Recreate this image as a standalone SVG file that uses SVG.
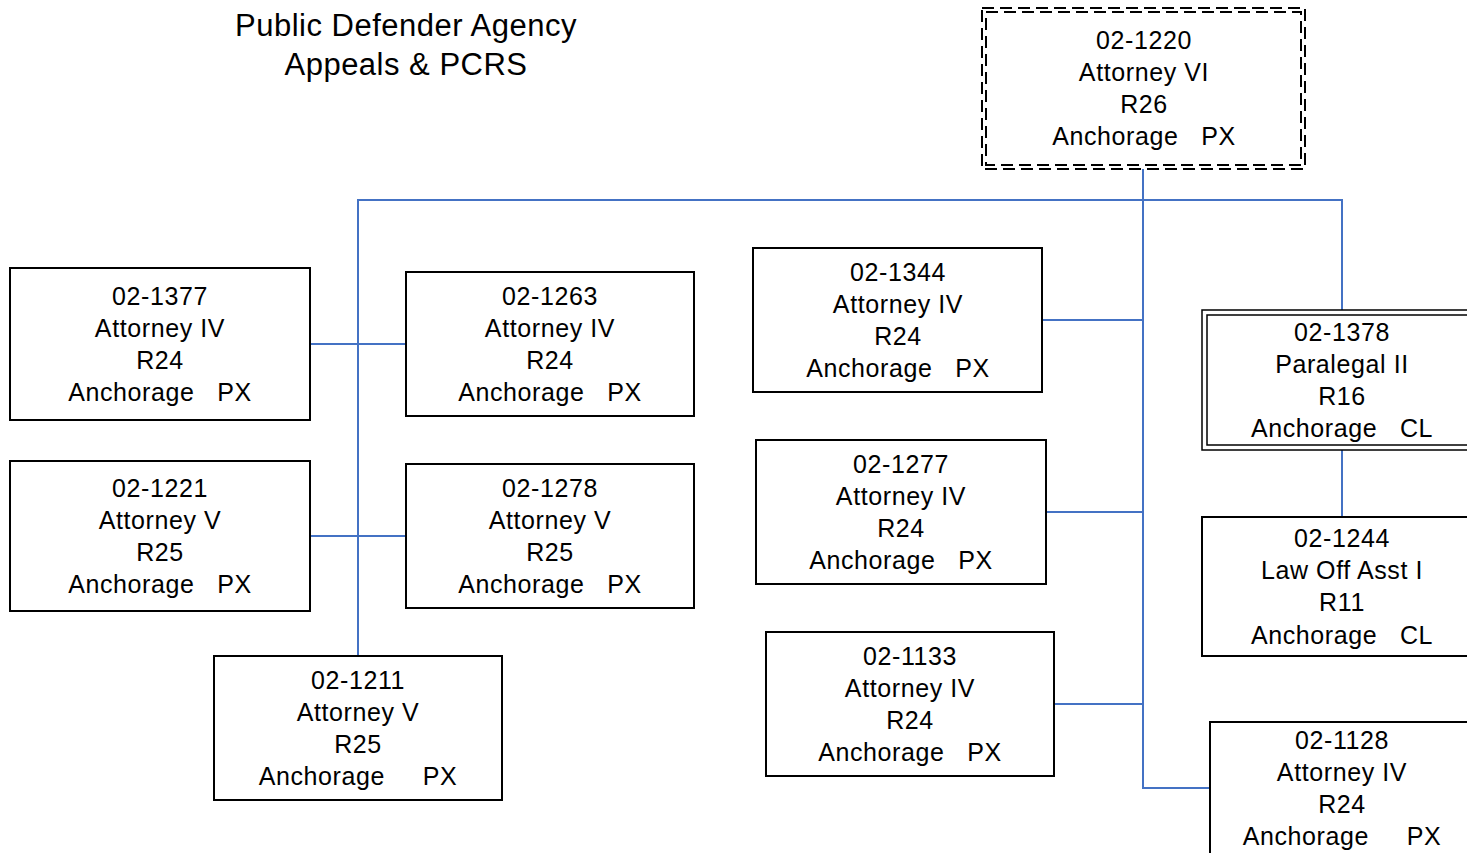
<svg xmlns="http://www.w3.org/2000/svg" width="1467" height="853" viewBox="0 0 1467 853">
<style>
.box{fill:#fff;stroke:#000;stroke-width:2}
.dbl{fill:none;stroke:#000;stroke-width:1.5}
.dash{fill:none;stroke:#000;stroke-width:2;stroke-dasharray:12 6}
.t{font-family:"Liberation Sans",Arial,sans-serif;font-size:25px;letter-spacing:0.6px;fill:#000;text-anchor:middle;white-space:pre}
.title{font-family:"Liberation Sans",Arial,sans-serif;font-size:31px;letter-spacing:0.5px;fill:#000;text-anchor:middle}
.c{fill:none;stroke:#4472C4;stroke-width:2}
</style>
<rect width="1467" height="853" fill="#fff"/>
<g id="title">
<text class="title" x="406" y="36">Public Defender Agency</text>
<text class="title" x="406" y="75">Appeals &amp; PCRS</text>
</g>
<g id="connectors">
<path class="c" d="M1143 169V788H1210"/>
<path class="c" d="M358 656V200H1342V310"/>
<path class="c" d="M1342 450V517"/>
<path class="c" d="M310 344H406"/>
<path class="c" d="M310 536H406"/>
<path class="c" d="M1042 320H1143"/>
<path class="c" d="M1046 512H1143"/>
<path class="c" d="M1054 704H1143"/>
</g>
<g id="n1220">
<rect class="dash" x="982" y="8" width="323" height="161"/>
<rect class="dash" x="986" y="12" width="315" height="153"/>
<text class="t" x="1144" y="49">02-1220</text>
<text class="t" x="1144" y="81">Attorney VI</text>
<text class="t" x="1144" y="113">R26</text>
<text class="t" x="1144" y="145" xml:space="preserve">Anchorage   PX</text>
</g>
<g id="n1377">
<rect class="box" x="10" y="268" width="300" height="152"/>
<text class="t" x="160" y="305">02-1377</text>
<text class="t" x="160" y="337">Attorney IV</text>
<text class="t" x="160" y="369">R24</text>
<text class="t" x="160" y="401" xml:space="preserve">Anchorage   PX</text>
</g>
<g id="n1263">
<rect class="box" x="406" y="272" width="288" height="144"/>
<text class="t" x="550" y="305">02-1263</text>
<text class="t" x="550" y="337">Attorney IV</text>
<text class="t" x="550" y="369">R24</text>
<text class="t" x="550" y="401" xml:space="preserve">Anchorage   PX</text>
</g>
<g id="n1221">
<rect class="box" x="10" y="461" width="300" height="150"/>
<text class="t" x="160" y="497">02-1221</text>
<text class="t" x="160" y="529">Attorney V</text>
<text class="t" x="160" y="561">R25</text>
<text class="t" x="160" y="593" xml:space="preserve">Anchorage   PX</text>
</g>
<g id="n1278">
<rect class="box" x="406" y="464" width="288" height="144"/>
<text class="t" x="550" y="497">02-1278</text>
<text class="t" x="550" y="529">Attorney V</text>
<text class="t" x="550" y="561">R25</text>
<text class="t" x="550" y="593" xml:space="preserve">Anchorage   PX</text>
</g>
<g id="n1211">
<rect class="box" x="214" y="656" width="288" height="144"/>
<text class="t" x="358" y="689">02-1211</text>
<text class="t" x="358" y="721">Attorney V</text>
<text class="t" x="358" y="753">R25</text>
<text class="t" x="358" y="785" xml:space="preserve">Anchorage     PX</text>
</g>
<g id="n1344">
<rect class="box" x="753" y="248" width="289" height="144"/>
<text class="t" x="898" y="281">02-1344</text>
<text class="t" x="898" y="313">Attorney IV</text>
<text class="t" x="898" y="345">R24</text>
<text class="t" x="898" y="377" xml:space="preserve">Anchorage   PX</text>
</g>
<g id="n1277">
<rect class="box" x="756" y="440" width="290" height="144"/>
<text class="t" x="901" y="473">02-1277</text>
<text class="t" x="901" y="505">Attorney IV</text>
<text class="t" x="901" y="537">R24</text>
<text class="t" x="901" y="569" xml:space="preserve">Anchorage   PX</text>
</g>
<g id="n1133">
<rect class="box" x="766" y="632" width="288" height="144"/>
<text class="t" x="910" y="665">02-1133</text>
<text class="t" x="910" y="697">Attorney IV</text>
<text class="t" x="910" y="729">R24</text>
<text class="t" x="910" y="761" xml:space="preserve">Anchorage   PX</text>
</g>
<g id="n1378">
<rect class="dbl" x="1202" y="310" width="290" height="140"/>
<rect class="dbl" x="1207" y="315" width="280" height="130"/>
<text class="t" x="1342" y="341">02-1378</text>
<text class="t" x="1342" y="373">Paralegal II</text>
<text class="t" x="1342" y="405">R16</text>
<text class="t" x="1342" y="437" xml:space="preserve">Anchorage   CL</text>
</g>
<g id="n1244">
<rect class="box" x="1202" y="517" width="290" height="139"/>
<text class="t" x="1342" y="547">02-1244</text>
<text class="t" x="1342" y="579">Law Off Asst I</text>
<text class="t" x="1342" y="611">R11</text>
<text class="t" x="1342" y="644" xml:space="preserve">Anchorage   CL</text>
</g>
<g id="n1128">
<rect class="box" x="1210" y="722" width="290" height="160"/>
<text class="t" x="1342" y="749">02-1128</text>
<text class="t" x="1342" y="781">Attorney IV</text>
<text class="t" x="1342" y="813">R24</text>
<text class="t" x="1342" y="845" xml:space="preserve">Anchorage     PX</text>
</g>
</svg>
